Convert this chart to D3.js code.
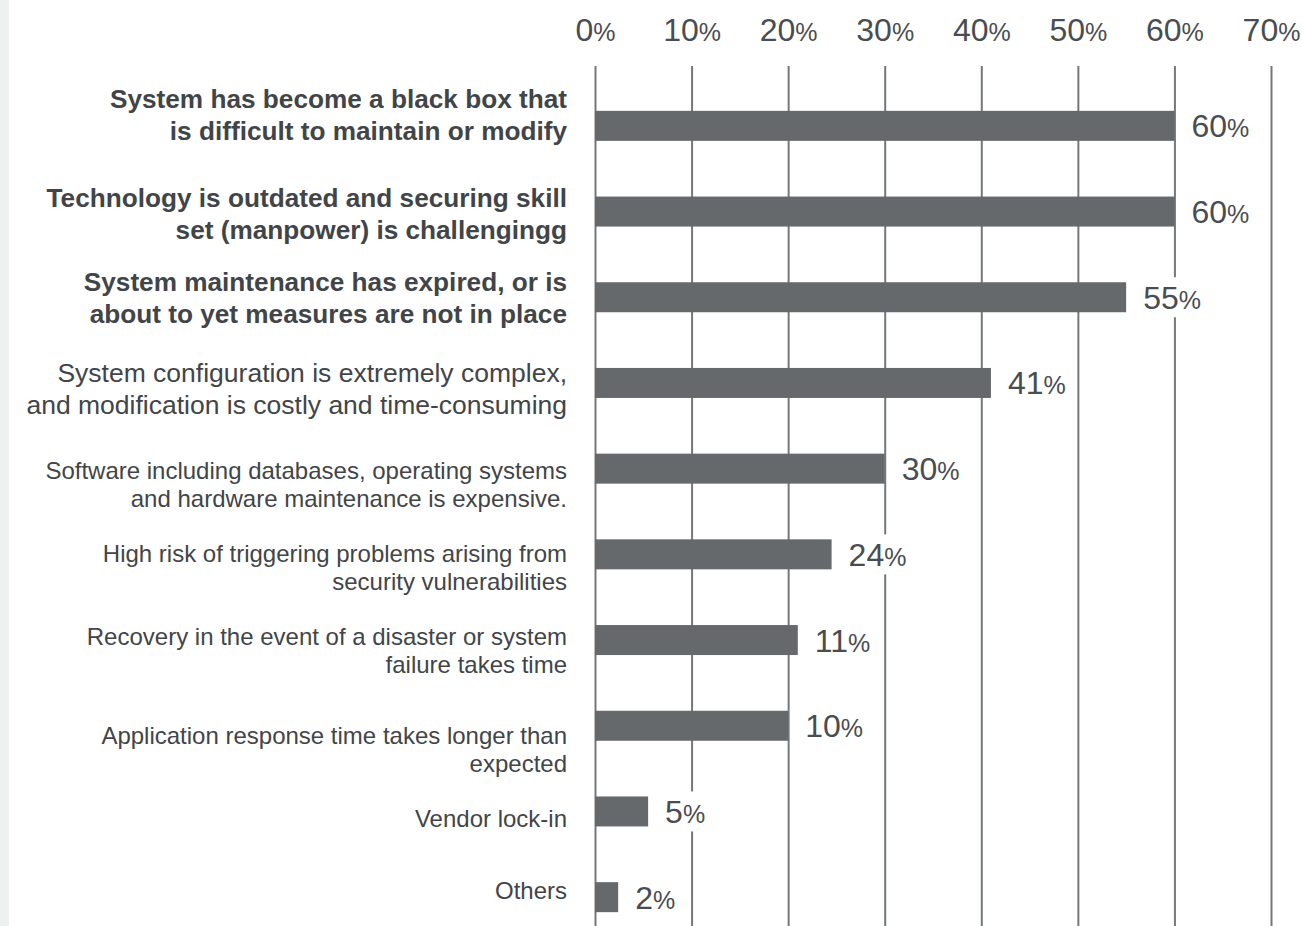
<!DOCTYPE html>
<html lang="en">
<head>
<meta charset="utf-8">
<title>Problems with current systems</title>
<script src="https://cdn.jsdelivr.net/npm/d3@7"></script>
<style>
  body { margin: 0; background: #fff; font-family: 'Liberation Sans', Arial, sans-serif; }
  svg { display: block; }
  .strip { fill: #eff1f0; }
  .grid line { stroke: #74787a; stroke-width: 2; }
  .grid path { display: none; }
  .bar { fill: #65696b; }
  text.tick-label, text.value { fill: #4a4d50; font-size: 32px; }
  tspan.pct { font-size: 25px; }
  text.cat { fill: #424548; }
  .labelbox { fill: #fff; }
</style>
</head>
<body>
<svg width="1302" height="926"></svg>
<script>
const categories = [
  'System has become a black box that\nis difficult to maintain or modify',
  'Technology is outdated and securing skill\nset (manpower) is challengingg',
  'System maintenance has expired, or is\nabout to yet measures are not in place',
  'System configuration is extremely complex,\nand modification is costly and time-consuming',
  'Software including databases, operating systems\nand hardware maintenance is expensive.',
  'High risk of triggering problems arising from\nsecurity vulnerabilities',
  'Recovery in the event of a disaster or system\nfailure takes time',
  'Application response time takes longer than\nexpected',
  'Vendor lock-in',
  'Others'
];
// bar lengths as drawn in the picture, and the numbers printed next to them
const barValues = [60, 60, 55, 41, 30, 24.5, 21, 20, 5.5, 2.4];
const shownValues = [60, 60, 55, 41, 30, 24, 11, 10, 5, 2];
const tickValues = [0, 10, 20, 30, 40, 50, 60, 70];

const W = 1302, H = 926;
const svg = d3.select('svg');

svg.append('rect').attr('class', 'strip')
  .attr('x', 0).attr('y', 0).attr('width', 9).attr('height', H);

const x = d3.scaleLinear().domain([0, 70]).range([595, 1271]);
const y = d3.scaleBand()
  .domain(categories)
  .range([83, 940])
  .paddingInner(0.65)
  .paddingOuter(0.325);

// vertical grid lines
const gridTop = 66;
svg.append('g')
  .attr('class', 'grid')
  .attr('transform', `translate(0, ${gridTop})`)
  .call(d3.axisTop(x).tickValues(tickValues).tickSize(-(H - gridTop)).tickFormat(''));

// top tick labels
const ticks = svg.append('g')
  .attr('transform', 'translate(0, 41)')
  .call(d3.axisTop(x).tickValues(tickValues).tickSize(0).tickPadding(0).tickFormat(d => d));
ticks.select('.domain').remove();
ticks.attr('font-size', null).attr('font-family', null);
ticks.selectAll('text')
  .attr('class', 'tick-label')
  .attr('fill', null)
  .append('tspan').attr('class', 'pct').text('%');

// bars
svg.append('g').selectAll('rect')
  .data(categories)
  .join('rect')
  .attr('class', 'bar')
  .attr('x', x(0))
  .attr('y', d => y(d))
  .attr('width', (d, i) => x(barValues[i]) - x(0))
  .attr('height', y.bandwidth());

// value labels with white backing
const vals = svg.append('g').selectAll('g')
  .data(categories)
  .join('g');
vals.append('rect').attr('class', 'labelbox');
vals.append('text')
  .attr('class', 'value')
  .attr('x', (d, i) => x(barValues[i]) + 17)
  .attr('y', d => y(d) + y.bandwidth() / 2 + 11.5)
  .text((d, i) => shownValues[i])
  .append('tspan').attr('class', 'pct').text('%');
vals.each(function (d) {
  const g = d3.select(this);
  const bb = g.select('text').node().getBBox();
  g.select('rect')
    .attr('x', bb.x - 6)
    .attr('width', bb.width + 12)
    .attr('y', y(d) + y.bandwidth() / 2 - 20)
    .attr('height', 40);
});

// category labels
const labelShift = [-11, 2, 0, 6, 16, 13, 10, 24, 7, -7];
categories.forEach((c, i) => {
  const lines = c.split('\n');
  const fs = i < 3 ? 26.2 : (i < 4 ? 26.5 : 24);
  const lh = i < 4 ? 32 : 28;
  const mid = y(c) + y.bandwidth() / 2 + labelShift[i];
  const t = svg.append('text')
    .attr('class', 'cat')
    .attr('text-anchor', 'end')
    .attr('font-size', fs)
    .attr('font-weight', i < 3 ? 'bold' : 'normal');
  lines.forEach((ln, k) => {
    t.append('tspan')
      .attr('x', 567)
      .attr('y', mid + (k - (lines.length - 1) / 2) * lh + fs * 0.36)
      .text(ln);
  });
});
</script>
</body>
</html>
